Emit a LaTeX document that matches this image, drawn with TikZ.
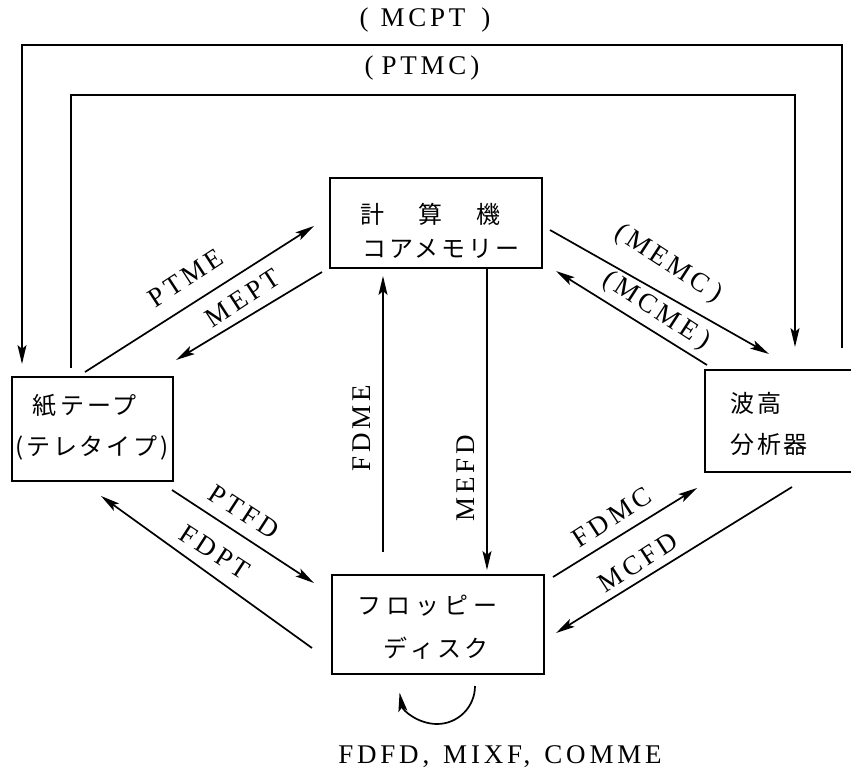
\documentclass[tikz,border=0pt]{standalone}
\usepackage{fontspec}
\setmainfont{Liberation Serif}
\newfontfamily\cjk{Noto Sans CJK JP}
\newfontfamily\cjksp[LetterSpace=12]{Noto Sans CJK JP}
\newfontfamily\lab[LetterSpace=14]{Liberation Serif}
\usetikzlibrary{arrows.meta,calc}
\begin{document}
\begin{tikzpicture}[x=1pt,y=-1pt,
  conn/.style={line width=1.7pt,-{Stealth[length=19pt,width=9pt,inset=4pt]}},
  box/.style={draw,line width=2.2pt,inner sep=0pt},
  jp/.style={font=\cjksp\fontsize{24}{24}\selectfont,inner sep=0pt,anchor=west},
  lbl/.style={font=\lab\fontsize{27}{27}\selectfont,inner sep=0pt}]
\useasboundingbox (0,0) rectangle (851,781);
% boxes
\node[box,minimum width=212pt,minimum height=90pt] (me) at (436,223) {};
\node[box,minimum width=161pt,minimum height=104pt] (pt) at (92.5,429) {};
\node[box,minimum width=160pt,minimum height=102pt] (wa) at (785,421) {};
\node[box,minimum width=212pt,minimum height=99pt] (fd) at (438,624.5) {};
% box texts
\node[jp] (me1) at (360,214) {\cjk\fontsize{24}{24}\selectfont 計\hspace{34pt}算\hspace{34pt}機};
\node[jp] (me2) at (362,249) {コアメモリー};
\node[jp] (pt1) at (32,406) {紙\hspace{4pt}テープ};
\node[jp] (pt2) at (15,448) {(テレタイプ)};
\node[jp] (wa1) at (730,403) {波高};
\node[jp] (wa2) at (730,444) {分析器};
\node[jp,font=\cjk\fontsize{24}{24}\selectfont] (fd1) at (357,606) {フ\hspace{5pt}ロ\hspace{5pt}ッ\hspace{5pt}ピ\hspace{5pt}ー};
\node[jp,font=\cjk\fontsize{24}{24}\selectfont] (fd2) at (383,648) {デ\hspace{3pt}ィ\hspace{3pt}ス\hspace{3pt}ク};
% endpoints
\coordinate (mcptA) at (842,348);
\coordinate (mcptB) at (22,364);
\coordinate (ptmcA) at (71,368);
\coordinate (ptmcB) at (795,347);
\coordinate (ptmeA) at (85,372);
\coordinate (ptmeB) at (314,226);
\coordinate (meptA) at (322,272);
\coordinate (meptB) at (176,360);
\coordinate (memcA) at (550,230);
\coordinate (memcB) at (769,354);
\coordinate (mcmeA) at (707,365);
\coordinate (mcmeB) at (556,271);
\coordinate (ptfdA) at (172,490);
\coordinate (ptfdB) at (314,583);
\coordinate (fdptA) at (312,648);
\coordinate (fdptB) at (101,496);
\coordinate (fdmcA) at (553,577);
\coordinate (fdmcB) at (697,488);
\coordinate (mcfdA) at (792,487);
\coordinate (mcfdB) at (556,633);
\coordinate (fdmeA) at (383,552);
\coordinate (fdmeB) at (383,276);
\coordinate (mefdA) at (487,268);
\coordinate (mefdB) at (487,570);
% top loops
\draw[conn] (mcptA) -- ++(0,-303) -| (mcptB);
\draw[conn] (ptmcA) -- ++(0,-273) -| (ptmcB);
\node[lbl] (lmcpt) at (425,20) {(\hspace{12pt}MCPT\hspace{16pt})};
\node[lbl] (lptmc) at (422,68) {(\hspace{8pt}PTMC\hspace{4pt})};
% diagonals and verticals
\draw[conn] (ptmeA) -- (ptmeB);
\draw[conn] (meptA) -- (meptB);
\draw[conn] (memcA) -- (memcB);
\draw[conn] (mcmeA) -- (mcmeB);
\draw[conn] (ptfdA) -- (ptfdB);
\draw[conn] (fdptA) -- (fdptB);
\draw[conn] (fdmcA) -- (fdmcB);
\draw[conn] (mcfdA) -- (mcfdB);
\draw[conn] (fdmeA) -- (fdmeB);
\draw[conn] (mefdA) -- (mefdB);
% labels
\node[lbl,rotate=33] (l1) at (186,278) {PTME};
\node[lbl,rotate=33] (l2) at (243,298) {MEPT};
\node[lbl,rotate=-33] (l3) at (668,264) {(\hspace{4pt}MEMC\hspace{6pt})};
\node[lbl,rotate=-33] (l4) at (656,311) {(\hspace{4pt}MCME\hspace{6pt})};
\node[lbl,rotate=-33] (l5) at (244,512) {PTFD};
\node[lbl,rotate=-33] (l6) at (215,552) {FDPT};
\node[lbl,rotate=33] (l7) at (612,517) {FDMC};
\node[lbl,rotate=33] (l8) at (638,562) {MCFD};
\node[lbl,rotate=90] (l9) at (362,428) {FDME};
\node[lbl,rotate=90] (l10) at (466,478) {MEFD};
% self loop
\coordinate (loopA) at (475,686);
\draw[conn] (loopA) arc[start angle=0,end angle=170,radius=38];
\node[lbl] (lbot) at (500,757) {FDFD,\hspace{14pt}MIXF,\hspace{14pt}COMME};
\end{tikzpicture}
\end{document}
